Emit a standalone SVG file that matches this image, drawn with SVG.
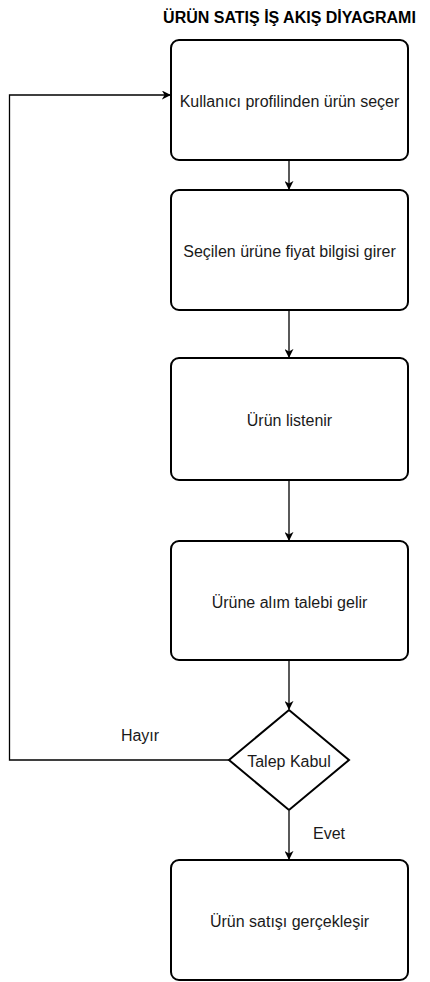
<svg xmlns="http://www.w3.org/2000/svg" width="430" height="982" viewBox="0 0 430 982">
<style>
.box{fill:#fff;stroke:#000;stroke-width:2}
.t{font-family:"Liberation Sans",Arial,sans-serif;font-size:16px;fill:#1a1a1a;text-anchor:middle;dominant-baseline:central}
.c{fill:none;stroke:#000;stroke-width:1.3}
.title{font-family:"Liberation Sans",Arial,sans-serif;font-size:16px;font-weight:bold;text-anchor:middle}
</style>
<defs>
<marker id="a" viewBox="0 0 10 10" refX="9" refY="5" markerWidth="9" markerHeight="9" markerUnits="userSpaceOnUse" orient="auto">
<path d="M0,0 L10,5 L0,10 L3,5 Z" fill="#000"/>
</marker>
</defs>
<text class="title" x="289.5" y="23">ÜRÜN SATIŞ İŞ AKIŞ DİYAGRAMI</text>
<g id="connectors">
<line class="c" x1="289" y1="161" x2="289" y2="189" marker-end="url(#a)"/>
<line class="c" x1="289" y1="311" x2="289" y2="357" marker-end="url(#a)"/>
<line class="c" x1="289" y1="481" x2="289" y2="540" marker-end="url(#a)"/>
<line class="c" x1="289" y1="661" x2="289" y2="709" marker-end="url(#a)"/>
<line class="c" x1="289" y1="811" x2="289" y2="859" marker-end="url(#a)"/>
<polyline class="c" points="229,760 9.5,760 9.5,95 170,95" marker-end="url(#a)"/>
<text class="t" x="140" y="735">Hayır</text>
<text class="t" x="329" y="833">Evet</text>
</g>
<g id="n1"><rect class="box" x="171" y="40" width="237" height="120" rx="8"/><text class="t" x="289.5" y="101">Kullanıcı profilinden ürün seçer</text></g>
<g id="n2"><rect class="box" x="171" y="190" width="237" height="120" rx="8"/><text class="t" x="289.5" y="251">Seçilen ürüne fiyat bilgisi girer</text></g>
<g id="n3"><rect class="box" x="171" y="358" width="237" height="122" rx="8"/><text class="t" x="289.5" y="420">Ürün listenir</text></g>
<g id="n4"><rect class="box" x="171" y="541" width="237" height="119" rx="8"/><text class="t" x="289.5" y="602">Ürüne alım talebi gelir</text></g>
<g id="n5"><polygon class="box" points="289,710 349,760 289,810 229,760"/><text class="t" x="289" y="761">Talep Kabul</text></g>
<g id="n6"><rect class="box" x="171" y="860" width="237" height="120" rx="8"/><text class="t" x="289.5" y="921">Ürün satışı gerçekleşir</text></g>
</svg>
